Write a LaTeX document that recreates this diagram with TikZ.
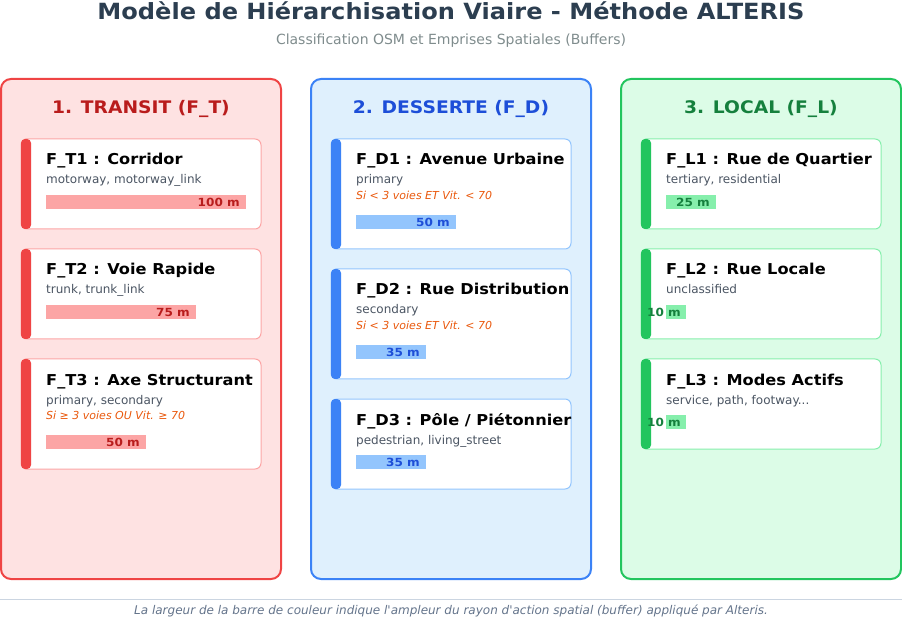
\documentclass[tikz,border=0pt]{standalone}
\usepackage{fontspec}
\setmainfont{DejaVu Sans}[BoldFeatures={FakeStretch=1.08}]
\usetikzlibrary{positioning}

\definecolor{headdark}{HTML}{2C3E50}
\definecolor{headgray}{HTML}{7F8C8D}
\definecolor{tline}{HTML}{EF4444}
\definecolor{tfill}{HTML}{FEE2E2}
\definecolor{tdark}{HTML}{B91C1C}
\definecolor{tsoft}{HTML}{FCA5A5}
\definecolor{dline}{HTML}{3B82F6}
\definecolor{dfill}{HTML}{DFF0FD}
\definecolor{ddark}{HTML}{1D4ED8}
\definecolor{dsoft}{HTML}{93C5FD}
\definecolor{lline}{HTML}{22C55E}
\definecolor{lfill}{HTML}{DCFCE7}
\definecolor{ldark}{HTML}{15803D}
\definecolor{lsoft}{HTML}{86EFAC}
\definecolor{osmgray}{HTML}{4B5563}
\definecolor{condorange}{HTML}{EA580C}
\definecolor{footline}{HTML}{CBD5E1}
\definecolor{footgray}{HTML}{64748B}

\tikzset{
  panel/.style 2 args={draw=#1, fill=#2, line width=2pt, rounded corners=10pt},
  paneltitle/.style={font=\fontsize{17.3}{20}\selectfont\bfseries, text=#1, anchor=base},
  card/.style={draw=#1, fill=white, line width=1pt, rounded corners=6pt},
  cardbar/.style={fill=#1, rounded corners=4pt},
  cardtitle/.style={font=\fontsize{15}{18}\selectfont\bfseries, text=black, anchor=base west, inner sep=0pt},
  osmtags/.style={font=\fontsize{12}{14}\selectfont, text=osmgray, anchor=base west, inner sep=0pt},
  condtext/.style={font=\fontsize{11}{13}\selectfont\itshape, text=condorange, anchor=base west, inner sep=0pt},
  bufbar/.style={fill=#1},
  buflabel/.style={font=\fontsize{11.2}{13}\selectfont\bfseries, text=#1, anchor=base east, inner sep=0pt}
}

\begin{document}
\begin{tikzpicture}[x=1pt, y=-1pt]
  \useasboundingbox (0,0) rectangle (902,617);

  \node[font=\fontsize{22.3}{25}\selectfont\bfseries, text=headdark, anchor=base] (title) at (451,19.5) {Modèle de Hiérarchisation Viaire - Méthode ALTERIS};
  \node[font=\fontsize{14}{16}\selectfont, text=headgray, anchor=base] (subtitle) at (451,45) {Classification OSM et Emprises Spatiales (Buffers)};

  \draw[panel={tline}{tfill}] (1,79) rectangle (281,579);
  \draw[panel={dline}{dfill}] (311,79) rectangle (591,579);
  \draw[panel={lline}{lfill}] (621,79) rectangle (901,579);

  \node[paneltitle=tdark] (transit) at (141,114) {1. TRANSIT (F\_T)};
  \node[paneltitle=ddark] (desserte) at (451,114) {2. DESSERTE (F\_D)};
  \node[paneltitle=ldark] (local) at (761,114) {3. LOCAL (F\_L)};

  % transit
  \draw[card=tsoft] (21,139) rectangle (261,229);
  \fill[cardbar=tline] (21,139) rectangle (31,229);
  \node[cardtitle] (ft1) at (46,165) {F\_T1 : Corridor};
  \node[osmtags] (ft1osm) at (46,184) {motorway, motorway\_link};
  \fill[bufbar=tsoft] (46,195) rectangle (246,209);
  \node[buflabel=tdark] (ft1buf) at (240,206.5) {100 m};

  \draw[card=tsoft] (21,249) rectangle (261,339);
  \fill[cardbar=tline] (21,249) rectangle (31,339);
  \node[cardtitle] (ft2) at (46,275) {F\_T2 : Voie Rapide};
  \node[osmtags] (ft2osm) at (46,294) {trunk, trunk\_link};
  \fill[bufbar=tsoft] (46,305) rectangle (196,319);
  \node[buflabel=tdark] (ft2buf) at (190,316.5) {75 m};

  \draw[card=tsoft] (21,359) rectangle (261,469);
  \fill[cardbar=tline] (21,359) rectangle (31,469);
  \node[cardtitle] (ft3) at (46,385) {F\_T3 : Axe Structurant};
  \node[osmtags] (ft3osm) at (46,404) {primary, secondary};
  \node[condtext] (ft3cond) at (46,419.5) {Si ≥ 3 voies OU Vit. ≥ 70};
  \fill[bufbar=tsoft] (46,435) rectangle (146,449);
  \node[buflabel=tdark] (ft3buf) at (140,446.5) {50 m};

  % desserte
  \draw[card=dsoft] (331,139) rectangle (571,249);
  \fill[cardbar=dline] (331,139) rectangle (341,249);
  \node[cardtitle] (fd1) at (356,165) {F\_D1 : Avenue Urbaine};
  \node[osmtags] (fd1osm) at (356,184) {primary};
  \node[condtext] (fd1cond) at (356,199.5) {Si < 3 voies ET Vit. < 70};
  \fill[bufbar=dsoft] (356,215) rectangle (456,229);
  \node[buflabel=ddark] (fd1buf) at (450,226.5) {50 m};

  \draw[card=dsoft] (331,269) rectangle (571,379);
  \fill[cardbar=dline] (331,269) rectangle (341,379);
  \node[cardtitle] (fd2) at (356,295) {F\_D2 : Rue Distribution};
  \node[osmtags] (fd2osm) at (356,314) {secondary};
  \node[condtext] (fd2cond) at (356,329.5) {Si < 3 voies ET Vit. < 70};
  \fill[bufbar=dsoft] (356,345) rectangle (426,359);
  \node[buflabel=ddark] (fd2buf) at (420,356.5) {35 m};

  \draw[card=dsoft] (331,399) rectangle (571,489);
  \fill[cardbar=dline] (331,399) rectangle (341,489);
  \node[cardtitle] (fd3) at (356,425) {F\_D3 : Pôle / Piétonnier};
  \node[osmtags] (fd3osm) at (356,444) {pedestrian, living\_street};
  \fill[bufbar=dsoft] (356,455) rectangle (426,469);
  \node[buflabel=ddark] (fd3buf) at (420,466.5) {35 m};

  % local
  \draw[card=lsoft] (641,139) rectangle (881,229);
  \fill[cardbar=lline] (641,139) rectangle (651,229);
  \node[cardtitle] (fl1) at (666,165) {F\_L1 : Rue de Quartier};
  \node[osmtags] (fl1osm) at (666,184) {tertiary, residential};
  \fill[bufbar=lsoft] (666,195) rectangle (716,209);
  \node[buflabel=ldark] (fl1buf) at (710,206.5) {25 m};

  \draw[card=lsoft] (641,249) rectangle (881,339);
  \fill[cardbar=lline] (641,249) rectangle (651,339);
  \node[cardtitle] (fl2) at (666,275) {F\_L2 : Rue Locale};
  \node[osmtags] (fl2osm) at (666,294) {unclassified};
  \fill[bufbar=lsoft] (666,305) rectangle (686,319);
  \node[buflabel=ldark] (fl2buf) at (681,316.5) {10 m};

  \draw[card=lsoft] (641,359) rectangle (881,449);
  \fill[cardbar=lline] (641,359) rectangle (651,449);
  \node[cardtitle] (fl3) at (666,385) {F\_L3 : Modes Actifs};
  \node[osmtags] (fl3osm) at (666,404) {service, path, footway...};
  \fill[bufbar=lsoft] (666,415) rectangle (686,429);
  \node[buflabel=ldark] (fl3buf) at (681,426.5) {10 m};

  \draw[footline, line width=1pt] (0,599) -- (902,599);
  \node[font=\fontsize{12}{14}\selectfont\itshape, text=footgray, anchor=base] (footnote) at (451,614) {La largeur de la barre de couleur indique l\textquotesingle ampleur du rayon d\textquotesingle action spatial (buffer) appliqué par Alteris.};
\end{tikzpicture}
\end{document}
